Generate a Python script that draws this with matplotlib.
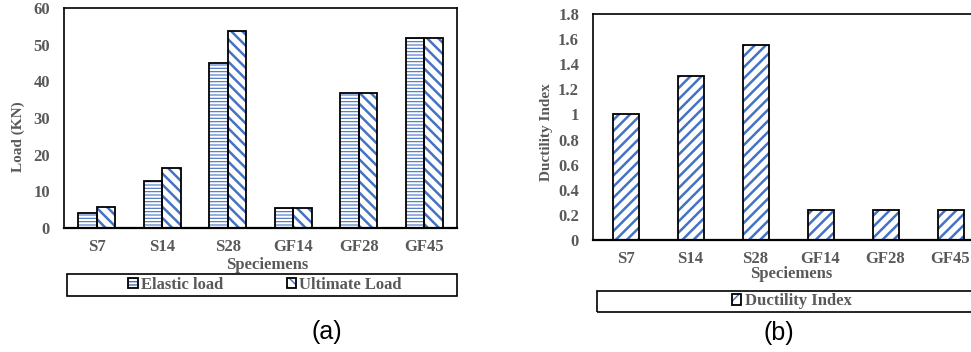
import matplotlib
matplotlib.use("Agg")
import matplotlib.pyplot as plt
from matplotlib.patches import Patch, Rectangle
import numpy as np

# Specimen data
specimens = ["S7", "S14", "S28", "GF14", "GF28", "GF45"]
elastic_load = [4.0, 12.8, 45.0, 5.4, 36.8, 51.7]
ultimate_load = [5.6, 16.4, 53.6, 5.4, 36.8, 51.7]
ductility_index = [1.0, 1.31, 1.55, 0.24, 0.24, 0.24]

load_ticks = [0, 10, 20, 30, 40, 50, 60]
ductility_ticks = [0, 0.2, 0.4, 0.6, 0.8, 1.0, 1.2, 1.4, 1.6, 1.8]
ductility_tick_labels = ["0", "0.2", "0.4", "0.6", "0.8", "1", "1.2", "1.4", "1.6", "1.8"]

BLUE = "#4472C4"
GRAY = "#595959"
SERIF = "Liberation Serif"

fig = plt.figure(figsize=(9.71, 3.52), dpi=100)


def hatched_bars(ax, x, vals, width, hatch, hlw):
    with plt.rc_context({"hatch.linewidth": hlw}):
        ax.bar(x, vals, width, color="white", edgecolor=BLUE, hatch=hatch,
               linewidth=0, zorder=2)
    ax.bar(x, vals, width, fill=False, edgecolor="black", linewidth=1.3, zorder=3)


def legend_handle(hatch, hlw):
    with plt.rc_context({"hatch.linewidth": hlw}):
        inner = Patch(facecolor="white", edgecolor=BLUE, hatch=hatch, linewidth=0)
    outer = Patch(fill=False, edgecolor="black", linewidth=1.3)
    return (inner, outer)


def style_axes(ax):
    ax.tick_params(length=0, labelsize=12, labelcolor=GRAY)
    for lab in ax.get_xticklabels() + ax.get_yticklabels():
        lab.set_fontfamily(SERIF)
        lab.set_fontweight("bold")


# ---- (a) Load chart ----
ax1 = fig.add_axes([64 / 971, 124 / 352, 393 / 971, 220 / 352])
x = np.arange(len(specimens))
w = 0.285
hatched_bars(ax1, x - w / 2, elastic_load, w, "-----", 0.8)
hatched_bars(ax1, x + w / 2, ultimate_load, w, "\\\\\\", 1.8)
ax1.set_xlim(-0.5, len(specimens) - 0.5)
ax1.set_ylim(0, 60)
ax1.set_yticks(load_ticks)
ax1.set_xticks(x)
ax1.set_xticklabels(specimens)
ax1.tick_params(axis="y", pad=10)
ax1.tick_params(axis="x", pad=8)
for s in ax1.spines.values():
    s.set_linewidth(1.2)
ax1.spines["bottom"].set_linewidth(1.6)
style_axes(ax1)
ax1.set_xlabel("Speciemens", fontfamily=SERIF, fontweight="bold", fontsize=12, color=GRAY)
ax1.xaxis.set_label_coords(0.517, -0.132)
ax1.set_ylabel("Load (KN)", fontfamily=SERIF, fontweight="bold", fontsize=11, color=GRAY)
ax1.yaxis.set_label_coords(-0.099, 0.414)

fig.add_artist(Rectangle((67 / 971, 56 / 352), 390 / 971, 22 / 352,
                         transform=fig.transFigure, fill=False,
                         edgecolor="black", linewidth=1.2))
fig.legend([legend_handle("-----", 0.8), legend_handle("\\\\\\", 1.8)],
           ["Elastic load", "Ultimate Load"], loc="center",
           bbox_to_anchor=(265 / 971, 67 / 352), ncol=2, frameon=False,
           handlelength=0.55, handleheight=0.55, handletextpad=0.2,
           columnspacing=3.8,
           prop={"family": SERIF, "weight": "bold", "size": 12},
           labelcolor=GRAY)

fig.text(327 / 971, 1 - 332 / 352, "(a)", ha="center", va="center",
         fontfamily="Liberation Sans", fontsize=18)

# ---- (b) Ductility chart ----
ax2 = fig.add_axes([593 / 971, 112 / 352, 390 / 971, 226 / 352])
wb = 0.4
hatched_bars(ax2, x, ductility_index, wb, "///", 1.8)
ax2.set_xlim(-0.5, len(specimens) - 0.5)
ax2.set_ylim(0, 1.8)
ax2.set_yticks(ductility_ticks)
ax2.set_yticklabels(ductility_tick_labels)
ax2.set_xticks(x)
ax2.set_xticklabels(specimens)
ax2.tick_params(axis="y", pad=10)
ax2.tick_params(axis="x", pad=8)
for s in ax2.spines.values():
    s.set_linewidth(1.2)
ax2.spines["bottom"].set_linewidth(1.6)
style_axes(ax2)
ax2.set_xlabel("Speciemens", fontfamily=SERIF, fontweight="bold", fontsize=12, color=GRAY)
ax2.xaxis.set_label_coords(0.508, -0.115)
ax2.set_ylabel("Ductility Index", fontfamily=SERIF, fontweight="bold", fontsize=11, color=GRAY)
ax2.yaxis.set_label_coords(-0.103, 0.478)

fig.add_artist(Rectangle((597 / 971, 40.3 / 352), 400 / 971, 20.7 / 352,
                         transform=fig.transFigure, fill=False,
                         edgecolor="black", linewidth=1.2))
fig.legend([legend_handle("///", 1.8)], ["Ductility Index"], loc="center",
           bbox_to_anchor=(792 / 971, 50.6 / 352), ncol=1, frameon=False,
           handlelength=0.55, handleheight=0.55, handletextpad=0.2,
           prop={"family": SERIF, "weight": "bold", "size": 12},
           labelcolor=GRAY)

fig.text(779 / 971, 1 - 333 / 352, "(b)", ha="center", va="center",
         fontfamily="Liberation Sans", fontsize=18)

fig.savefig("out.png", dpi=100)
